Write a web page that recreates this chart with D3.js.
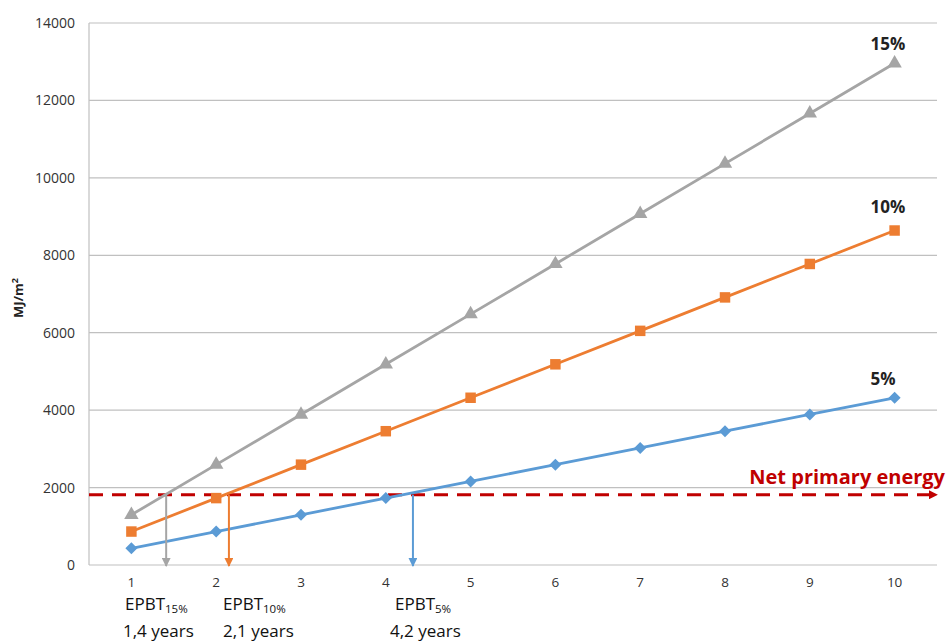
<!DOCTYPE html>
<html><head><meta charset="utf-8">
<script src="https://cdn.jsdelivr.net/npm/d3@7"></script>
<style>body{margin:0;background:#fff}svg{display:block}text{font-family:"Open Sans","Noto Sans",sans-serif}</style>
</head><body><svg id="c" width="948" height="642"></svg>
<script>
const years = [1,2,3,4,5,6,7,8,9,10];
const s5  = [432,864,1296,1728,2160,2592,3024,3456,3888,4320];
const s10 = [864,1728,2592,3456,4320,5184,6048,6912,7776,8640];
const s15 = [1296,2592,3888,5184,6480,7776,9072,10368,11664,12960];
const yTicks = [0,2000,4000,6000,8000,10000,12000,14000];
const netPrimary = 1814;
const seriesNames = ["5%","10%","15%"];
const epbtLabels = ["15%","10%","5%"];
const epbtYears = ["1,4 years","2,1 years","4,2 years"];
const epbtArrowX = [1.41,2.15,4.32];

const svg = d3.select("#c");
const L=89, R=937, T=23, B=565;
const x = d3.scaleBand().domain(years).range([L,R]);
const y = d3.scaleLinear().domain([0,14000]).range([B,T]);
const xc = v => x(years[0]) + x.bandwidth()/2 + (v-1)*x.step();

// grid
svg.append("g").selectAll("line").data(yTicks).join("line")
  .attr("x1",L).attr("x2",R).attr("y1",d=>y(d)).attr("y2",d=>y(d))
  .attr("stroke","#c0c0c0").attr("stroke-width",1.2);
svg.append("line").attr("x1",L).attr("x2",L).attr("y1",T).attr("y2",B).attr("stroke","#c0c0c0").attr("stroke-width",1.2);

// y axis labels
const ya = svg.append("g").attr("transform",`translate(${L-14},0)`)
  .call(d3.axisLeft(y).tickValues(yTicks).tickSize(0).tickPadding(0).tickFormat(d3.format("d")));
ya.select(".domain").remove();
ya.selectAll("text").attr("font-size",14).attr("fill","#333").style("font-family","'Open Sans',sans-serif");

// x axis labels
const xa = svg.append("g").attr("transform",`translate(0,${B+12})`)
  .call(d3.axisBottom(x).tickSize(0).tickPadding(0));
xa.select(".domain").remove();
xa.selectAll("text").attr("font-size",13.5).attr("fill","#333").attr("dy","0.75em").style("font-family","'Open Sans',sans-serif");

// y title
svg.append("text").attr("transform","translate(23,298) rotate(-90)").attr("text-anchor","middle")
  .attr("font-size",13).attr("font-weight","bold").attr("fill","#222")
  .html('MJ/m<tspan dy="-5" font-size="9">2</tspan>');

// defs
const defs = svg.append("defs");
function marker(id,color){
  defs.append("marker").attr("id",id).attr("viewBox","0 0 10 10").attr("refX",9).attr("refY",5)
   .attr("markerWidth",9).attr("markerHeight",9).attr("markerUnits","userSpaceOnUse").attr("orient","auto")
   .append("path").attr("d","M0,0L10,5L0,10Z").attr("fill",color);
}
marker("ag","#a5a5a5"); marker("ao","#ed7d31"); marker("ab","#5b9bd5"); marker("ar","#c00000");

// net primary energy
svg.append("line").attr("x1",L).attr("x2",R).attr("y1",y(netPrimary)).attr("y2",y(netPrimary))
  .attr("stroke","#c00000").attr("stroke-width",3).attr("stroke-dasharray","14,9").attr("marker-end","url(#ar)");
svg.append("text").attr("x",945).attr("y",y(netPrimary)-11).attr("text-anchor","end")
  .attr("font-size",20).attr("font-weight","bold").attr("fill","#c00000").text("Net primary energy");

// series
const diamond = "M0,-6L6,0L0,6L-6,0Z";
const series = [
  {name:seriesNames[0], vals:s5, color:"#5b9bd5", shape:"diamond", lx:883, ly:385},
  {name:seriesNames[1], vals:s10, color:"#ed7d31", shape:d3.symbolSquare, lx:888, ly:213},
  {name:seriesNames[2], vals:s15, color:"#a5a5a5", shape:d3.symbolTriangle, lx:888, ly:50}
];
const line = d3.line().x((d,i)=>xc(years[i])).y(d=>y(d));
series.forEach(s=>{
  svg.append("path").attr("d",line(s.vals)).attr("fill","none").attr("stroke",s.color).attr("stroke-width",2.8);
  const pathD = s.shape==="diamond" ? diamond : d3.symbol().type(s.shape).size(s.shape===d3.symbolSquare?110:90)();
  svg.append("g").selectAll("path").data(s.vals).join("path")
    .attr("transform",(d,i)=>`translate(${xc(years[i])},${y(d)})`)
    .attr("d",pathD).attr("fill",s.color);
  svg.append("text").attr("x",s.lx).attr("y",s.ly).attr("text-anchor","middle")
    .attr("font-size",17).attr("font-weight","bold").attr("fill","#222").text(s.name);
});

// EPBT arrows
const arrowCols = ["#a5a5a5","#ed7d31","#5b9bd5"], arrowIds=["ag","ao","ab"];
epbtArrowX.forEach((v,i)=>{
  svg.append("line").attr("x1",xc(v)).attr("x2",xc(v)).attr("y1",y(netPrimary)).attr("y2",B+1)
    .attr("stroke",arrowCols[i]).attr("stroke-width",2).attr("marker-end",`url(#${arrowIds[i]})`);
});

// EPBT labels
const labX = [125,223,395], yrX=[123,223,390];
epbtLabels.forEach((t,i)=>{
  const tx = svg.append("text").attr("x",labX[i]).attr("y",610).attr("font-size",17).attr("fill","#111");
  tx.append("tspan").text("EPBT");
  tx.append("tspan").attr("dy",2.5).attr("font-size",11.5).text(t);
  svg.append("text").attr("x",yrX[i]).attr("y",636.5).attr("font-size",17).attr("fill","#111").text(epbtYears[i]);
});
</script></body></html>
